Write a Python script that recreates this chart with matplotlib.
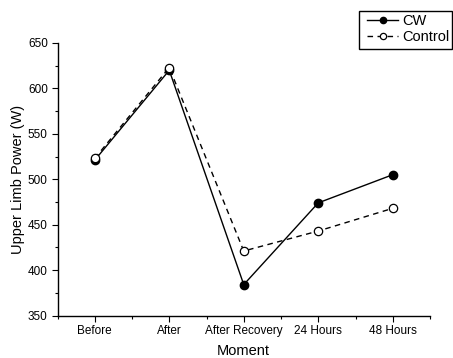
import matplotlib
matplotlib.use("Agg")
import matplotlib.pyplot as plt
from matplotlib.ticker import MultipleLocator
from matplotlib.patches import Rectangle

plt.rcParams['font.family'] = ['Liberation Sans', 'DejaVu Sans']

moments = ["Before", "After", "After Recovery", "24 Hours", "48 Hours"]
cw = [521, 620, 384, 474, 505]
control = [523, 623, 421, 443, 468]

fig = plt.figure(figsize=(4.53, 3.58), dpi=100)
W, H = 453, 358
ax = fig.add_axes([57.5 / W, 1 - 315.5 / H, (430 - 57.5) / W, (315.5 - 43) / H])

x = list(range(len(moments)))
ax.plot(x, cw, '-', color='black', lw=1.0, marker='o', ms=6,
        mfc='black', mec='black', label='CW', zorder=3)
ax.plot(x, control, '--', color='black', lw=1.0, marker='o', ms=6,
        mfc='white', mec='black', mew=0.9, label='Control', zorder=4,
        dashes=(4, 3.2))

ax.set_xlim(-0.5, 4.5)
ax.set_ylim(350, 650)
ax.set_xticks(x)
ax.set_xticklabels(moments)
ax.set_xticks([i + 0.5 for i in range(-1, 5)], minor=True)
ax.yaxis.set_major_locator(MultipleLocator(50))
ax.yaxis.set_minor_locator(MultipleLocator(25))

for s in ['top', 'right']:
    ax.spines[s].set_visible(False)
for s in ['left', 'bottom']:
    ax.spines[s].set_linewidth(1.0)

ax.tick_params(which='major', direction='out', length=4, width=0.8,
               labelsize=8.5, pad=3)
ax.tick_params(which='minor', direction='out', length=2, width=0.8)

ax.set_xlabel("Moment", fontsize=10.5, va='center')
ax.set_ylabel("Upper Limb Power (W)", fontsize=10.5, va='center')
ax.xaxis.set_label_coords(0.5, (315.5 - 351) / 272.5)
ax.yaxis.set_label_coords((18 - 57.5) / 372.5, 0.5)

# legend box with a plain black frame
fig.patches.append(Rectangle((359 / W, 1 - 48.5 / H), 93 / W, 37.5 / H,
                             transform=fig.transFigure, fill=False,
                             edgecolor='black', lw=1.0))
leg = fig.legend(loc='upper left', bbox_to_anchor=(364 / W, 1 - 11.5 / H),
                 fontsize=10.5, frameon=False,
                 handlelength=2.15, handletextpad=0.25,
                 borderpad=0.2, labelspacing=0.12, borderaxespad=0,
                 markerscale=0.75)

fig.savefig("out.png", dpi=100)
